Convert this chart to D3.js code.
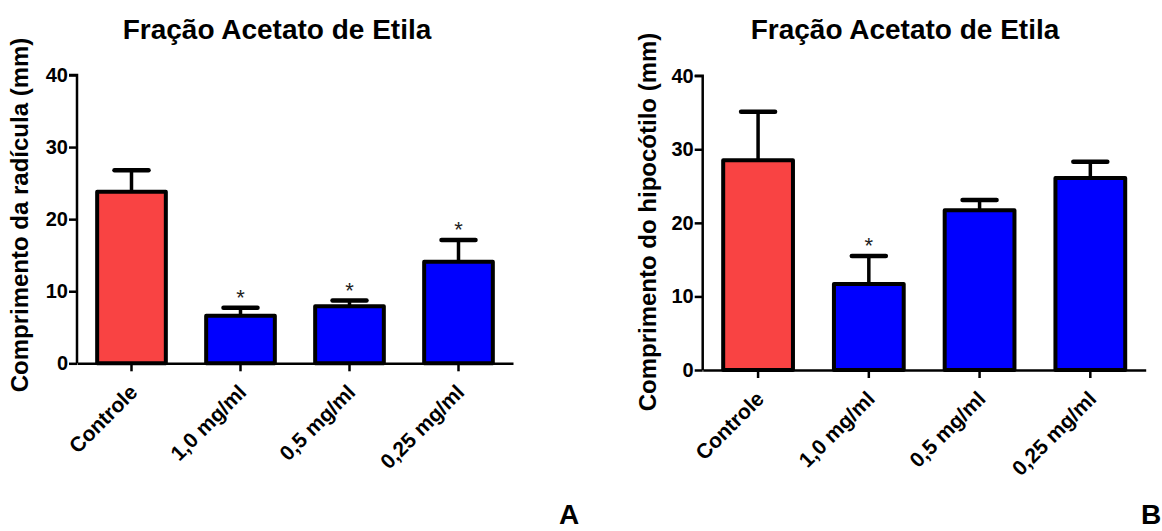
<!DOCTYPE html>
<html>
<head>
<meta charset="utf-8">
<script src="https://cdn.jsdelivr.net/npm/d3@7"></script>
<style>
  html, body { margin: 0; padding: 0; background: #fff; }
  svg { display: block; }
  text { font-family: "Liberation Sans", Arial, sans-serif; }
</style>
</head>
<body>
<svg id="chart" width="1162" height="531"></svg>
<script>
// ---- Data ----
const categories = ["Controle", "1,0 mg/ml", "0,5 mg/ml", "0,25 mg/ml"];
const radiculaMean = [23.8, 6.6, 7.9, 14.1];
const radiculaErr  = [3.0, 1.1, 0.8, 3.0];
const radiculaSig  = [false, true, true, true];
const hipocotiloMean = [28.5, 11.7, 21.7, 26.1];
const hipocotiloErr  = [6.6, 3.8, 1.4, 2.2];
const hipocotiloSig  = [false, true, false, false];
const yTicks = [0, 10, 20, 30, 40];
const titleText = "Fração Acetato de Etila";
const barColors = ["#f94343", "#0000ff", "#0000ff", "#0000ff"];

const svg = d3.select("#chart");

const panels = [
  { mean: radiculaMean, err: radiculaErr, sig: radiculaSig,
    ylabel: "Comprimento da radícula (mm)", letter: "A",
    x0: 77, x1: 513, y0: 363.3, y1: 75, ylabX: 28, ylabY: 215, titleX: 277, letterX: 559 },
  { mean: hipocotiloMean, err: hipocotiloErr, sig: hipocotiloSig,
    ylabel: "Comprimento do hipocótilo (mm)", letter: "B",
    x0: 702.7, x1: 1145.7, y0: 370, y1: 75.7, ylabX: 656, ylabY: 222, titleX: 905, letterX: 1141 }
];

panels.forEach(p => {
  const g = svg.append("g");
  const x = d3.scaleBand().domain(categories).range([p.x0, p.x1])
    .paddingInner(0.37).paddingOuter(0.185);
  const y = d3.scaleLinear().domain([0, 40]).range([p.y0, p.y1]);

  const data = categories.map((c, i) => ({ c, m: p.mean[i], e: p.err[i], s: p.sig[i], col: barColors[i] }));

  // error bars
  const eb = g.append("g");
  eb.selectAll("line.v").data(data).join("line")
    .attr("x1", d => x(d.c) + x.bandwidth() / 2)
    .attr("x2", d => x(d.c) + x.bandwidth() / 2)
    .attr("y1", d => y(d.m))
    .attr("y2", d => y(d.m + d.e))
    .attr("stroke", "#000").attr("stroke-width", 3.5);
  eb.selectAll("line.cap").data(data).join("line")
    .attr("x1", d => x(d.c) + x.bandwidth() / 2 - 17)
    .attr("x2", d => x(d.c) + x.bandwidth() / 2 + 17)
    .attr("y1", d => y(d.m + d.e))
    .attr("y2", d => y(d.m + d.e))
    .attr("stroke", "#000").attr("stroke-width", 4.5).attr("stroke-linecap", "round");

  // bars
  g.append("g").selectAll("rect").data(data).join("rect")
    .attr("x", d => x(d.c))
    .attr("width", x.bandwidth())
    .attr("y", d => y(d.m))
    .attr("height", d => y(0) - y(d.m))
    .attr("fill", d => d.col)
    .attr("stroke", "#000").attr("stroke-width", 4)
    .attr("stroke-linejoin", "round");

  // significance stars
  g.append("g").selectAll("text").data(data.filter(d => d.s)).join("text")
    .attr("x", d => x(d.c) + x.bandwidth() / 2)
    .attr("y", d => y(d.m + d.e) - 3)
    .attr("text-anchor", "middle")
    .attr("font-size", 22)
    .attr("fill", "#222")
    .text("*");

  // y axis
  const yAxis = d3.axisLeft(y).tickValues(yTicks).tickSize(8).tickPadding(1).tickFormat(d3.format("d"));
  const ya = g.append("g").attr("transform", `translate(${p.x0},0)`).call(yAxis);
  ya.select(".domain").attr("stroke-width", 2.5).attr("d", `M-8,${p.y1}H0V${p.y0}`);
  ya.selectAll(".tick line").attr("stroke-width", 2.5);
  ya.selectAll(".tick text").attr("font-size", 20).attr("font-weight", "bold")
    .attr("font-family", '"Liberation Sans", Arial, sans-serif').attr("fill", "#000");

  // x axis
  const xAxis = d3.axisBottom(x).tickSize(8).tickSizeOuter(0);
  const xa = g.append("g").attr("transform", `translate(0,${p.y0})`).call(xAxis);
  xa.select(".domain").attr("stroke-width", 2.5);
  xa.selectAll(".tick line").attr("stroke-width", 2.5);
  xa.selectAll(".tick text")
    .attr("font-size", 21).attr("font-weight", "bold")
    .attr("font-family", '"Liberation Sans", Arial, sans-serif').attr("fill", "#000")
    .attr("text-anchor", "end")
    .attr("x", 0).attr("y", 0).attr("dy", "0.35em")
    .attr("transform", "translate(2,25) rotate(-45)");

  // y label
  g.append("text")
    .attr("transform", `translate(${p.ylabX},${p.ylabY}) rotate(-90)`)
    .attr("text-anchor", "middle")
    .attr("font-size", 24).attr("font-weight", "bold")
    .text(p.ylabel);

  // title
  g.append("text")
    .attr("x", p.titleX).attr("y", 39)
    .attr("text-anchor", "middle")
    .attr("font-size", 28).attr("font-weight", "bold")
    .text(titleText);

  // letter
  g.append("text")
    .attr("x", p.letterX).attr("y", 524)
    .attr("text-anchor", "start")
    .attr("font-size", 28).attr("font-weight", "bold")
    .text(p.letter);
});
</script>
</body>
</html>
